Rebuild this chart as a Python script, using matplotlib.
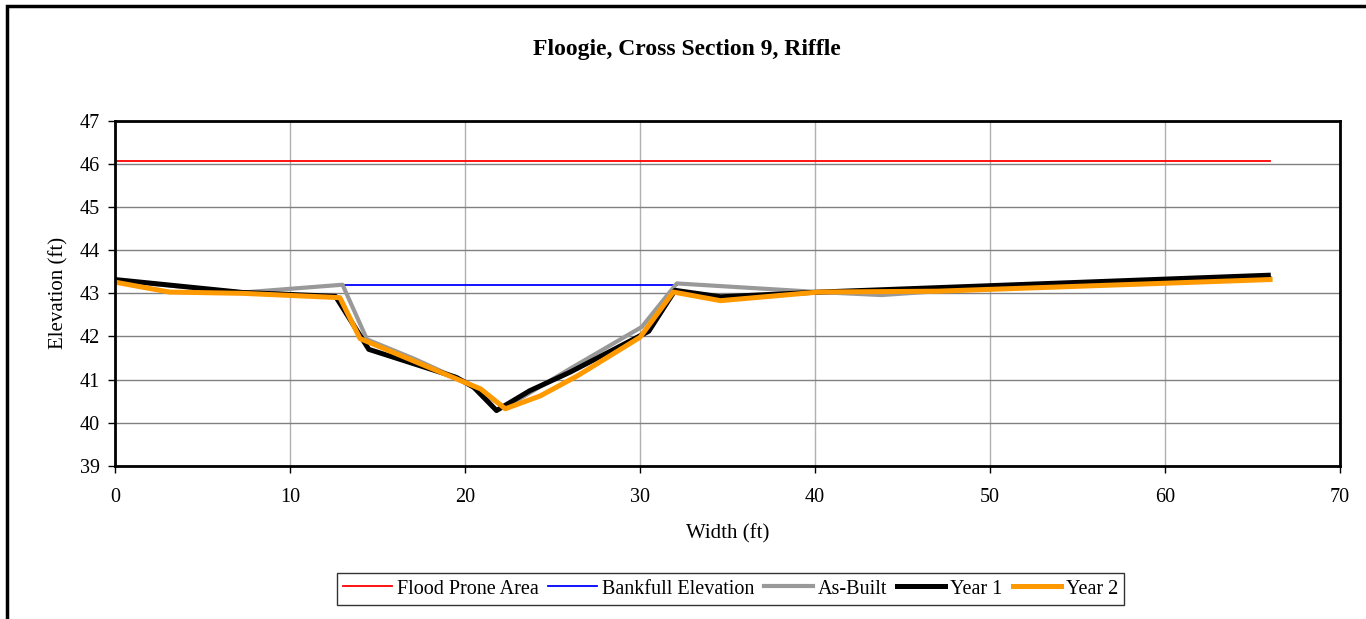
import matplotlib.pyplot as plt
from matplotlib.patches import Rectangle

plt.rcParams['font.family'] = ['Liberation Serif', 'DejaVu Serif']

# cross-section survey data (width ft, elevation ft)
flood_x = [0, 66]
flood_y = [46.08, 46.08]

bankfull_x = [13.0, 32.1]
bankfull_y = [43.19, 43.19]

asbuilt_x = [0, 7.3, 13.0, 14.4, 17.1, 19.9, 22.3, 26.0, 30.1, 32.1, 40.2, 43.8, 47.0, 66.0]
asbuilt_y = [43.3, 43.02, 43.2, 41.93, 41.48, 40.96, 40.35, 41.25, 42.22, 43.23, 43.03, 42.96, 43.05, 43.35]

year1_x = [0, 7.3, 12.6, 14.5, 19.5, 20.5, 21.8, 23.7, 26.0, 30.5, 32.0, 34.6, 40.3, 65.9]
year1_y = [43.32, 43.02, 42.93, 41.7, 41.05, 40.82, 40.28, 40.74, 41.17, 42.12, 43.07, 42.92, 43.03, 43.42]

year2_x = [0, 3.1, 7.3, 12.85, 14.0, 20.9, 22.3, 24.3, 26.4, 30.0, 31.9, 34.6, 40.2, 47.0, 66.0]
year2_y = [43.26, 43.03, 43.0, 42.9, 41.95, 40.78, 40.32, 40.62, 41.08, 41.98, 43.03, 42.83, 43.03, 43.05, 43.32]

fig = plt.figure(figsize=(13.66, 6.19), dpi=100)
ax = fig.add_axes([0.0842, 0.2477, 0.8968, 0.5568])

ax.plot(flood_x, flood_y, color='#FF0000', lw=1.3, label='Flood Prone Area')
ax.plot(bankfull_x, bankfull_y, color='#0000FF', lw=1.3, label='Bankfull Elevation')
ax.plot(asbuilt_x, asbuilt_y, color='#999999', lw=3.0, label='As-Built')
ax.plot(year1_x, year1_y, color='black', lw=3.6, label='Year 1')
ax.plot(year2_x, year2_y, color='#FF9900', lw=3.6, label='Year 2')

ax.set_xlim(0, 70)
ax.set_ylim(39, 47)
ax.set_xticks(range(0, 71, 10))
ax.set_yticks(range(39, 48))
ax.tick_params(labelsize=14.5, direction='out', length=5, width=1)
ax.tick_params(axis='x', pad=11)
ax.tick_params(axis='y', pad=6)

ax.grid(axis='y', color='#808080', lw=1)
ax.grid(axis='x', color='#b0b0b0', lw=1)
ax.set_axisbelow(True)
for sp in ax.spines.values():
    sp.set_linewidth(2)

ax.set_xlabel('Width (ft)', fontsize=15, labelpad=12)
ax.set_ylabel('Elevation (ft)', fontsize=15, labelpad=8)

fig.text(0.503, 0.92, 'Floogie, Cross Section 9, Riffle', ha='center', va='center',
         fontsize=17, fontweight='bold')

leg = ax.legend(loc='center', bbox_to_anchor=(0.535, 0.0485), bbox_transform=fig.transFigure,
                ncol=5, fontsize=14.5, frameon=True, fancybox=False, edgecolor='black',
                handlelength=2.4, handletextpad=0.25, columnspacing=0.5, borderpad=0.3)
leg.get_frame().set_linewidth(1)

# outer chart border (cut off on right and bottom)
fig.add_artist(Rectangle((7 / 1366, -0.2), 1.2, 1.2 - 6 / 619, transform=fig.transFigure,
                         fill=False, lw=2.5, edgecolor='black'))

fig.savefig('out.png', dpi=100)
